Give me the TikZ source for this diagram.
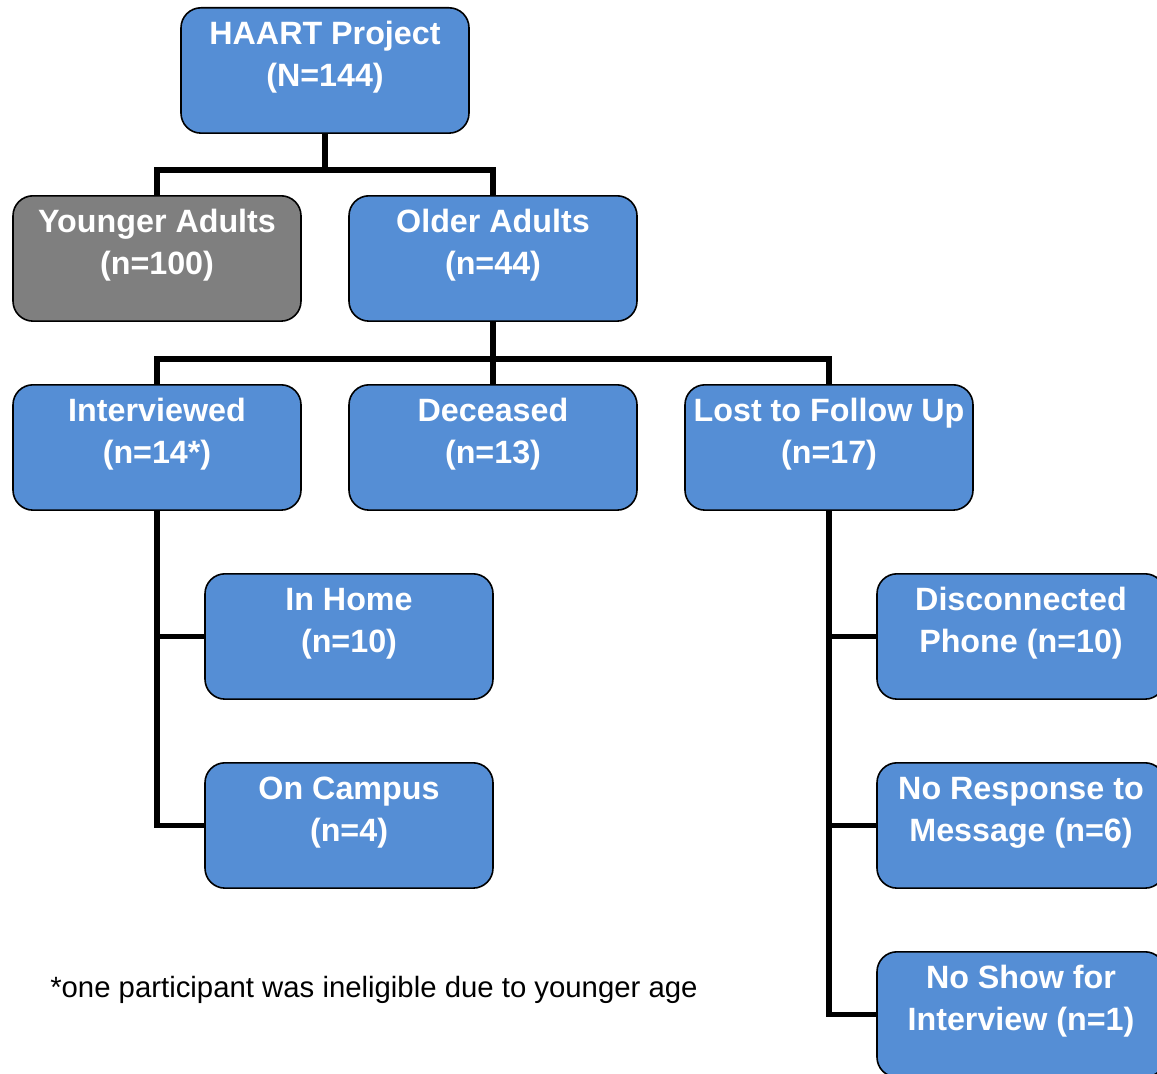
\documentclass[tikz,border=0pt]{standalone}
\usepackage{fontspec}
\setmainfont{Liberation Sans}
\definecolor{boxblue}{RGB}{85,142,213}
\definecolor{boxgrey}{RGB}{127,127,127}
\tikzset{
  bx/.style={draw=black, line width=1.2pt, rounded corners=15pt, fill=boxblue,
    minimum width=216pt, minimum height=94pt, inner sep=0pt, anchor=north},
  grey/.style={fill=boxgrey},
  tx/.style={text=white, font=\fontsize{24.2}{31.5}\selectfont\bfseries, anchor=base, inner sep=0pt},
  conn/.style={draw=black, line width=3.8pt, line join=miter}
}
\newcommand\mkbox[6][]{%
  \node[bx,#1] (#2) at (#3,#4) {};
  \node[tx] (#2-a) at ([yshift=-28pt]#2.north) {#5};
  \node[tx] (#2-b) at ([yshift=-59.5pt]#2.north) {#6};
}
\begin{document}
\begin{tikzpicture}[x=0.75pt,y=-0.75pt]
\useasboundingbox (0,0) rectangle (1157,1074);
\clip (0,0) rectangle (1157,1074);
\coordinate (j1) at (325,170);
\coordinate (j2) at (493,359);
\mkbox{haart}{325}{7}{HAART Project}{(N=144)}
\mkbox[grey]{younger}{157}{195}{Younger Adults}{(n=100)}
\mkbox{older}{493}{195}{Older Adults}{(n=44)}
\mkbox{interviewed}{157}{384}{Interviewed}{(n=14*)}
\mkbox{deceased}{493}{384}{Deceased}{(n=13)}
\mkbox{lost}{829}{384}{Lost to Follow Up}{(n=17)}
\mkbox{inhome}{349}{573}{In Home}{(n=10)}
\mkbox{oncampus}{349}{762}{On Campus}{(n=4)}
\mkbox{disc}{1021}{573}{Disconnected}{Phone (n=10)}
\mkbox{noresp}{1021}{762}{No Response to}{Message (n=6)}
\mkbox{noshow}{1021}{951}{No Show for}{Interview (n=1)}
\draw[conn] (haart.south) -- (j1) -| (younger.north);
\draw[conn] (j1) -| (older.north);
\draw[conn] (older.south) -- (j2) -| (interviewed.north);
\draw[conn] (j2) -| (lost.north);
\draw[conn] (j2) -- (deceased.north);
\draw[conn] (interviewed.south) |- (oncampus.west);
\draw[conn] (inhome.west) -- (inhome.west -| interviewed.south);
\draw[conn] (lost.south) |- (noshow.west);
\draw[conn] (disc.west) -- (disc.west -| lost.south);
\draw[conn] (noresp.west) -- (noresp.west -| lost.south);
\node[font=\fontsize{22}{26}\selectfont, anchor=base west, inner sep=0pt] (note) at (50,997) {*one participant was ineligible due to younger age};
\end{tikzpicture}
\end{document}
